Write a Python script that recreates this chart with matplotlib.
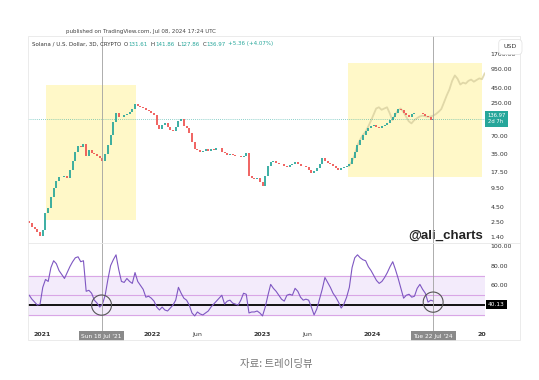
import matplotlib
matplotlib.use('Agg')
import matplotlib.pyplot as plt
import matplotlib.dates as mdates
from matplotlib.patches import Rectangle, Ellipse
from matplotlib.lines import Line2D
from matplotlib.ticker import NullLocator, NullFormatter
import pandas as pd

# ── Data (resampled to ~9 day bars) ──────────────────────────────────────────
bar_start = '2020-11-20'
first_open = 2.6
closes = [
    2.4, 2.1, 1.9, 1.7, 1.45, 1.8, 3.5, 4.3, 6.5, 9.5,
    12.5, 14.5, 14.2, 14.8, 14.0, 19, 27, 38, 47, 46,
    52, 33, 41, 37, 35, 33, 30, 27, 35, 50,
    72, 120, 170, 145, 150, 158, 165, 180, 200, 240,
    228, 215, 205, 195, 185, 175, 160, 110, 92, 110,
    118, 100, 89, 86, 100, 125, 135, 105, 95, 80,
    55, 43, 41, 38, 40, 42, 39, 43, 41, 45,
    44, 38, 36, 34, 35, 34, 33, 32, 31, 33,
    37, 15, 14, 13.5, 14, 12, 10.2, 15, 22, 26,
    27, 25, 24, 24, 22, 21, 23, 24, 26, 24,
    22, 22, 21, 19, 17, 18, 20, 24, 30, 27,
    25, 24, 22, 20, 19, 20, 21, 22, 24, 30,
    38, 50, 60, 72, 85, 95, 105, 110, 100, 97,
    102, 108, 118, 130, 145, 175, 200, 190, 175, 160,
    150, 165, 170, 175, 172, 165, 155, 145, 132, 136.97,
]
rsi = [
    50, 46, 43, 40, 41, 58, 66, 64, 78, 85,
    82, 75, 71, 67, 73, 79, 84, 88, 89, 84,
    85, 54, 55, 52, 45, 42, 38, 41, 50, 66,
    80, 86, 91, 76, 64, 63, 67, 64, 62, 73,
    64, 60, 56, 48, 49, 47, 44, 38, 35, 38,
    35, 34, 37, 40, 45, 58, 52, 47, 45, 40,
    32, 29, 33, 31, 30, 32, 34, 38, 41, 44,
    47, 50, 41, 44, 45, 42, 41, 40, 45, 52,
    51, 32, 33, 33, 34, 32, 29, 38, 50, 61,
    57, 54, 50, 46, 44, 50, 51, 50, 57, 54,
    48, 45, 46, 45, 38, 30, 36, 46, 56, 68,
    63, 58, 52, 48, 43, 37, 41, 48, 58, 78,
    88, 91, 88, 86, 85, 79, 75, 70, 65, 62,
    64, 68, 73, 79, 84, 76, 67, 57, 47, 50,
    51, 48, 49, 57, 61, 56, 52, 43, 45, 44,
]
# faded fractal projection drawn over the second box
ghost_start = '2023-10-17'
ghost = [
    22, 26, 33, 48, 60, 72, 82, 100, 125, 160,
    205, 215, 195, 205, 215, 170, 130, 160, 190, 205,
    180, 150, 125, 115, 130, 140, 150, 155, 152, 148,
    150, 155, 165, 180, 200, 260, 340, 430, 600, 740,
    650, 520, 560, 540, 600, 630, 580, 620, 660, 640, 800,
]
last_close = 136.97
rsi_last = 40.13
rsi_bands = [30, 50, 70]

price_ticks = [1.4, 2.5, 4.5, 9.5, 17.5, 35, 70, 250, 450, 950, 1700]
rsi_ticks = [60, 80, 100]
date_ticks = ['2021-01-01', '2021-07-18', '2022-01-01', '2022-06-01', '2023-01-01',
              '2023-06-01', '2024-01-01', '2024-07-22', '2025-01-01']
date_labels = ['2021', '', '2022', 'Jun', '2023', 'Jun', '2024', '', '20']
year_labels = {'2021', '2022', '2023', '2024', '20'}

# yellow highlight boxes: (start, end, low, high)
boxes = [('2021-01-14', '2021-11-09', 2.7, 510),
         ('2023-10-15', '2025-01-01', 14.4, 1200)]
cursors = [('2021-07-18', 40.0, "Sun 18 Jul '21"), ('2024-07-22', 43.0, "Tue 22 Jul '24")]

header = "published on TradingView.com, Jul 08, 2024 17:24 UTC"
symbol = "Solana / U.S. Dollar, 3D, CRYPTO"
ohlc = [('O', '131.61'), ('H', '141.86'), ('L', '127.86'), ('C', '136.97')]
change = "+5.36 (+4.07%)"

UP, DOWN = '#26a69a', '#ef5350'
W, H = 539, 380

dates = pd.date_range(bar_start, periods=len(closes), freq='9D')
gdates = pd.date_range(ghost_start, periods=len(ghost), freq='9D')
opens = [first_open] + closes[:-1]

fig = plt.figure(figsize=(W / 100, H / 100), dpi=100, facecolor='white')
ax = fig.add_axes([28 / W, 1 - 243 / H, 457 / W, 207 / H])
ax2 = fig.add_axes([28 / W, 1 - 324 / H, 457 / W, 81 / H], sharex=ax)

# ── Price pane ───────────────────────────────────────────────────────────────
ax.set_yscale('log')
ax.set_ylim(1.107, 3420)
ax.set_xlim(pd.Timestamp('2020-11-16'), pd.Timestamp('2025-01-10'))

for s, e, lo, hi in boxes:
    x0 = mdates.date2num(pd.Timestamp(s))
    x1 = mdates.date2num(pd.Timestamp(e))
    ax.add_patch(Rectangle((x0, lo), x1 - x0, hi - lo, facecolor='#fff8c8',
                           edgecolor='none', zorder=0))

ax.plot(gdates, ghost, color='#d9d0a0', linewidth=1.3, alpha=0.8, zorder=1)

cols = [UP if c >= o else DOWN for o, c in zip(opens, closes)]
ax.vlines(dates, opens, closes, colors=cols, linewidth=1.4, alpha=0.9, zorder=2)

ax.axhline(last_close, color=UP, linewidth=0.6, linestyle=(0, (1, 1.5)), alpha=0.7, zorder=1)

ax.yaxis.tick_right()
ax.yaxis.set_minor_locator(NullLocator())
ax.yaxis.set_minor_formatter(NullFormatter())
ax.set_yticks(price_ticks)
ax.set_yticklabels([f'{t:.2f}' for t in price_ticks])
ax.tick_params(axis='y', length=0, pad=4, labelsize=4.5, labelcolor='#333333')
ax.tick_params(axis='x', bottom=False, labelbottom=False)
for sp in ax.spines.values():
    sp.set_visible(False)

ax.text(1.006, last_close, f'{last_close:.2f}\n2d 7h', transform=ax.get_yaxis_transform(),
        fontsize=3.8, color='white', va='center', ha='left', linespacing=1.3,
        bbox=dict(boxstyle='square,pad=0.45', facecolor=UP, edgecolor='none'))

ax.text(0.996, 0.034, '@ali_charts', transform=ax.transAxes, ha='right', va='center',
        fontsize=9.5, fontweight='bold', color='#222222', family='Liberation Sans')

# ── RSI pane ─────────────────────────────────────────────────────────────────
ax2.set_ylim(20.8, 103)
ax2.axhspan(rsi_bands[0], rsi_bands[2], color='#f3ebfb', zorder=0)
for b in rsi_bands:
    ax2.axhline(b, color='#d9a6e6', linewidth=0.8, zorder=1)
ax2.axhline(rsi_last, color='black', linewidth=1.3, zorder=2)
ax2.plot(dates, rsi, color='#7e57c2', linewidth=0.8, zorder=3)

for d, v, _ in cursors:
    xc = mdates.date2num(pd.Timestamp(d))
    ax2.add_patch(Ellipse((xc, v), 66, 20.5, fill=False, edgecolor='#555555',
                          linewidth=0.8, zorder=4))

ax2.yaxis.tick_right()
ax2.set_yticks(rsi_ticks)
ax2.set_yticklabels([f'{t:.2f}' for t in rsi_ticks])
ax2.tick_params(axis='y', length=0, pad=4, labelsize=4.5, labelcolor='#333333')
ax2.text(1.006, rsi_last, f'{rsi_last:.2f}', transform=ax2.get_yaxis_transform(),
         fontsize=4.2, color='white', va='center', ha='left',
         bbox=dict(boxstyle='square,pad=0.35', facecolor='black', edgecolor='none'))

ax2.set_xticks([pd.Timestamp(d) for d in date_ticks])
ax2.set_xticklabels(date_labels)
ax2.tick_params(axis='x', length=0, pad=6, labelsize=4.5, labelcolor='#333333')
for lab in ax2.get_xticklabels():
    if lab.get_text() in year_labels:
        lab.set_fontweight('bold')
for sp in ax2.spines.values():
    sp.set_visible(False)

# cursor lines through both panes and the date strip
for d, _, tag in cursors:
    ax.axvline(pd.Timestamp(d), color='#a0a0a0', linewidth=0.6, zorder=3)
    ax2.axvline(pd.Timestamp(d), ymin=-0.2, ymax=1, color='#a0a0a0', linewidth=0.6,
                zorder=3, clip_on=False)
    ax2.text(pd.Timestamp(d), -0.15, tag, transform=ax2.get_xaxis_transform(),
             ha='center', va='center', fontsize=4.2, color='white', zorder=5,
             bbox=dict(boxstyle='square,pad=0.45', facecolor='#8a8a8a', edgecolor='none'))

# ── Card frame, header, caption ──────────────────────────────────────────────
fig.patches.append(Rectangle((28 / W, 1 - 340 / H), 492 / W, 304 / H, transform=fig.transFigure,
                             fill=False, edgecolor='#e8e8e8', linewidth=0.6))
fig.lines.append(Line2D([28 / W, 520 / W], [1 - 243 / H, 1 - 243 / H], transform=fig.transFigure,
                        color='#e8e8e8', linewidth=0.6))

fig.text(517 / W, 1 - 47 / H, 'USD', fontsize=4.5, color='#333333', ha='right', va='center',
         zorder=5,
         bbox=dict(boxstyle='round,pad=0.8,rounding_size=0.6', facecolor='white',
                   edgecolor='#e0e0e0', linewidth=0.5))

fig.text(141 / W, 1 - 32 / H, header, fontsize=4.0, color='#444444', ha='center', va='center')

prev = fig.text(32 / W, 1 - 44 / H, symbol, fontsize=4.0, color='#333333', va='center')
for letter, val in ohlc:
    prev = ax.annotate(letter, xy=(1, 0.5), xycoords=prev, xytext=(2.0, 0),
                       textcoords='offset points', va='center', fontsize=4.0,
                       color='#333333', annotation_clip=False)
    prev = ax.annotate(val, xy=(1, 0.5), xycoords=prev, xytext=(0.2, 0),
                       textcoords='offset points', va='center', fontsize=4.0,
                       color=UP, annotation_clip=False)
ax.annotate(change, xy=(1, 0.5), xycoords=prev, xytext=(2.0, 0),
            textcoords='offset points', va='center', fontsize=4.0, color=UP,
            annotation_clip=False)

fig.text(276 / W, 1 - 364 / H, '자료: 트레이딩뷰', fontsize=7.5, color='#777777',
         ha='center', va='center', style='italic',
         family=['Noto Sans CJK KR', 'DejaVu Sans'])

fig.savefig('out.png', dpi=100, facecolor='white')
